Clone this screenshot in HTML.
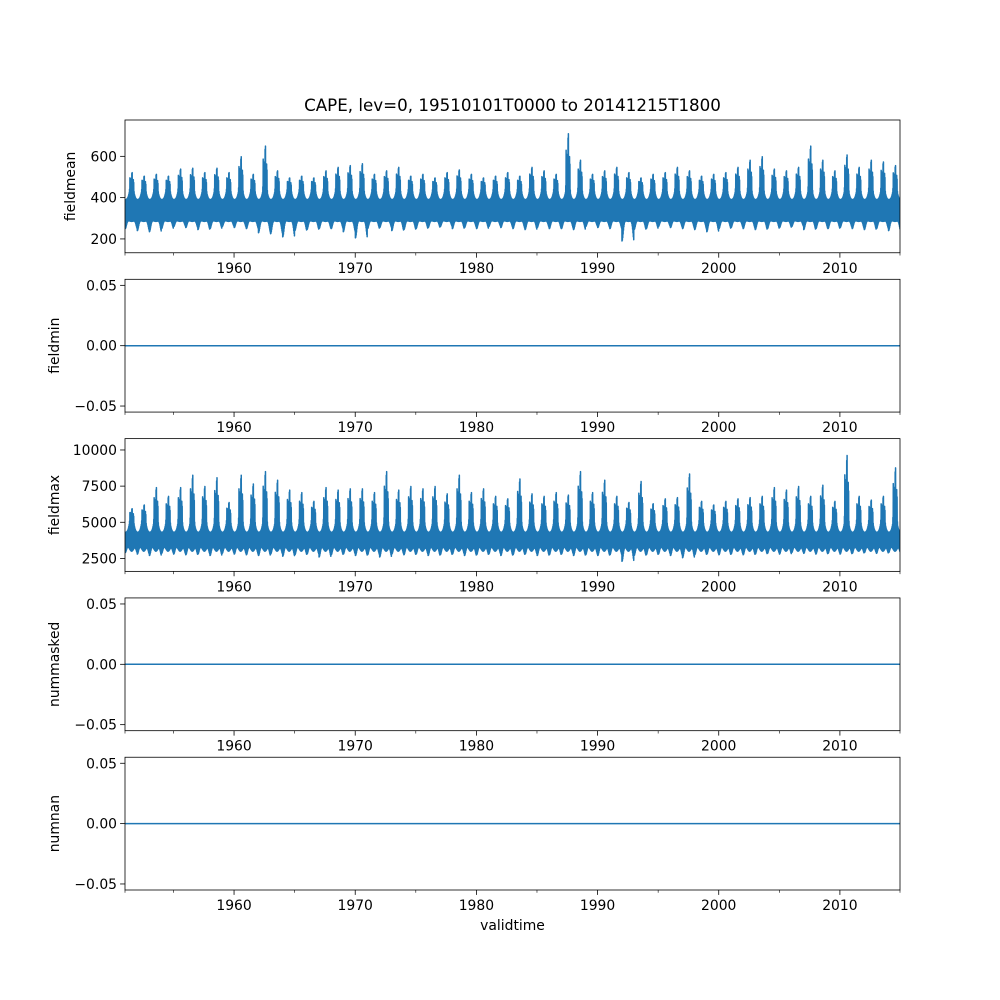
<!DOCTYPE html>
<html><head><meta charset="utf-8"><style>
body{margin:0;background:#fff}
svg{display:block;font-family:"DejaVu Sans","Liberation Sans",sans-serif}
</style></head><body>
<svg id="fig" width="1000" height="1000" viewBox="0 0 1000 1000" xmlns="http://www.w3.org/2000/svg">
<rect width="1000" height="1000" fill="#fff"/>
<text x="512.5" y="111" text-anchor="middle" font-size="16.7">CAPE, lev=0, 19510101T0000 to 20141215T1800</text>
<text x="512.5" y="930" text-anchor="middle" font-size="13.9">validtime</text>
</svg>
<script>
// ---- data ----
const years = [];
for (let y = 1951; y <= 2014; y++) years.push(y);
const meanPeaks = [530,510,520,510,550,555,530,555,530,620,520,680,540,500,510,500,540,560,570,580,520,540,560,510,520,500,530,545,520,500,510,530,510,560,540,520,750,600,520,540,560,530,500,520,530,560,540,510,520,530,560,600,620,550,540,560,680,600,540,630,560,600,590,570];
const meanTroughs = [230,220,215,230,240,235,225,230,240,235,230,210,205,190,220,225,230,230,215,185,230,235,220,225,230,235,240,230,235,230,240,235,230,225,235,230,230,225,240,235,230,170,225,230,240,235,230,225,215,230,235,230,225,230,235,240,225,230,230,235,230,225,230,220];
const maxPeaks = [6000,6300,7700,7000,7700,8700,7800,8500,6500,8700,8000,9000,8300,7500,7300,6600,7700,7500,7600,7600,7300,9000,7500,7800,7600,7800,7200,8700,7300,7600,7000,6800,8400,7200,7000,7300,7100,9000,7300,8300,7000,6500,8200,6400,6800,6900,8800,6600,6300,6600,6800,6900,7000,7700,7500,7800,7000,7900,6600,10300,7000,6700,7000,9300];
const maxTroughs = [2600,2500,2400,2550,2500,2450,2500,2400,2550,2500,2450,2400,2500,2350,2450,2500,2300,2450,2500,2400,2450,2300,2500,2450,2500,2400,2450,2500,2400,2450,2500,2400,2450,2500,2400,2450,2500,2400,2450,2400,2450,2000,2400,2450,2500,2400,2250,2450,2500,2450,2500,2450,2500,2550,2500,2600,2550,2500,2550,2500,2550,2600,2550,2600];
const xTicks = [1960,1970,1980,1990,2000,2010];
const xMinor = [1955,1965,1975,1985,1995,2005];
const meanTicks = [200,400,600];
const maxTicks = [2500,5000,7500,10000];
const zeroTicks = [0.05,0.00,-0.05];
const zeroSeries = [0,0];

const svg = document.getElementById('fig');
const NS = 'http://www.w3.org/2000/svg';
const L = 125, R = 900, H = 132.76, GAP = 26.55, T0 = 120;
const X0 = 1951.0, X1 = 2014.96;
const xs = v => L + (v - X0) / (X1 - X0) * (R - L);
function mk(tag, attrs, parent) {
  const e = document.createElementNS(NS, tag);
  for (const k in attrs) e.setAttribute(k, attrs[k]);
  (parent || svg).appendChild(e);
  return e;
}
const panels = [
  {name:'fieldmean', lo:133, hi:776, ticks:meanTicks, fmt:v=>String(v), lx:75},
  {name:'fieldmin', lo:-0.055, hi:0.055, ticks:zeroTicks, fmt:v=>v<0?'\u2212'+Math.abs(v).toFixed(2):v.toFixed(2), lx:59},
  {name:'fieldmax', lo:1605, hi:10785, ticks:maxTicks, fmt:v=>String(v), lx:59},
  {name:'nummasked', lo:-0.055, hi:0.055, ticks:zeroTicks, fmt:v=>v<0?'\u2212'+Math.abs(v).toFixed(2):v.toFixed(2), lx:59},
  {name:'numnan', lo:-0.055, hi:0.055, ticks:zeroTicks, fmt:v=>v<0?'\u2212'+Math.abs(v).toFixed(2):v.toFixed(2), lx:59}
];
const g2 = (t, c, w) => Math.exp(-Math.pow((t - c) / w, 2));
panels.forEach((p, i) => {
  const top = T0 + i * (H + GAP), bot = top + H;
  const ys = v => bot - (v - p.lo) / (p.hi - p.lo) * H;
  const g = mk('g', {});
  
  
  const clipId = 'c' + i;
  const cp = mk('clipPath', {id: clipId}, g);
  mk('rect', {x: L, y: top, width: R - L, height: H}, cp);
  let pts = [];
  if (p.name === 'fieldmean' || p.name === 'fieldmax') {
    const isMean = p.name === 'fieldmean';
    const peaks = isMean ? meanPeaks : maxPeaks;
    const troughs = isMean ? meanTroughs : maxTroughs;
    const hiW = isMean ? 390 : 4300;   // winter upper level
    const hiS = isMean ? 470 : 5600;   // summer upper level
    const loS = isMean ? 285 : 3000;   // summer lower level
    const N = 64;
    for (let k = 0; k < years.length; k++) {
      for (let j = 0; j < N; j++) {
        const t = j / N;
        const s = g2(t, 0.55, 0.22);
        const w = Math.min(1, g2(t, 0.02, 0.14) + g2(t, 1.02, 0.14));
        let v;
        if (j % 2 === 0) {
          const base = hiW + (hiS - hiW) * s;
          const spike = Math.max(g2(t, 0.58, 0.035), 0.75 * g2(t, 0.42, 0.03), 0.6 * g2(t, 0.7, 0.03));
          v = base + (peaks[k] - base) * spike;
        } else {
          const lowBase = loS + (hiW - 90 - loS) * (1 - s) * 0.3;
          v = lowBase + (troughs[k] + (isMean ? 20 : 300) - lowBase) * w;
          if (j === 2 || j === 62) v = troughs[k];
        }
        pts.push(xs(years[k] + t).toFixed(2) + ',' + ys(v).toFixed(2));
      }
    }
  } else {
    pts = [xs(X0).toFixed(2) + ',' + ys(zeroSeries[0]).toFixed(2), xs(X1).toFixed(2) + ',' + ys(zeroSeries[1]).toFixed(2)];
  }
  const line = mk('polyline', {points: pts.join(' '), fill: 'none', stroke: '#1f77b4', 'stroke-width': 1.5, 'stroke-linejoin': 'round', 'clip-path': 'url(#' + clipId + ')'}, g);
  
  
  const fr = mk('rect', {x: L, y: top, width: R - L, height: H, fill: 'none', stroke: '#000', 'stroke-width': 0.8}, g);
  
  
  xTicks.forEach(v => {
    const x = xs(v);
    mk('line', {x1: x, x2: x, y1: bot, y2: bot + 4.9, stroke: '#000', 'stroke-width': 0.8}, g);
    const tl = mk('text', {x: x, y: bot + 20, 'text-anchor': 'middle', 'font-size': 13.9}, g);
    tl.textContent = v;
    
    
  });
  xMinor.concat([1951, 2014.96]).forEach(v => {
    const x = xs(v);
    mk('line', {x1: x, x2: x, y1: bot, y2: bot + 2.8, stroke: '#000', 'stroke-width': 0.6}, g);
  });
  p.ticks.forEach(v => {
    const y = ys(v);
    mk('line', {x1: L - 4.9, x2: L, y1: y, y2: y, stroke: '#000', 'stroke-width': 0.8}, g);
    const tl = mk('text', {x: L - 8, y: y + 5, 'text-anchor': 'end', 'font-size': 13.9}, g);
    tl.textContent = p.fmt(v);
    
    
  });
  const yl = mk('text', {x: p.lx, y: top + H / 2, 'text-anchor': 'middle', 'font-size': 13.9, transform: 'rotate(-90 ' + p.lx + ' ' + (top + H / 2) + ')'}, g);
  yl.textContent = p.name;
  
  
});
</script>
</body></html>
